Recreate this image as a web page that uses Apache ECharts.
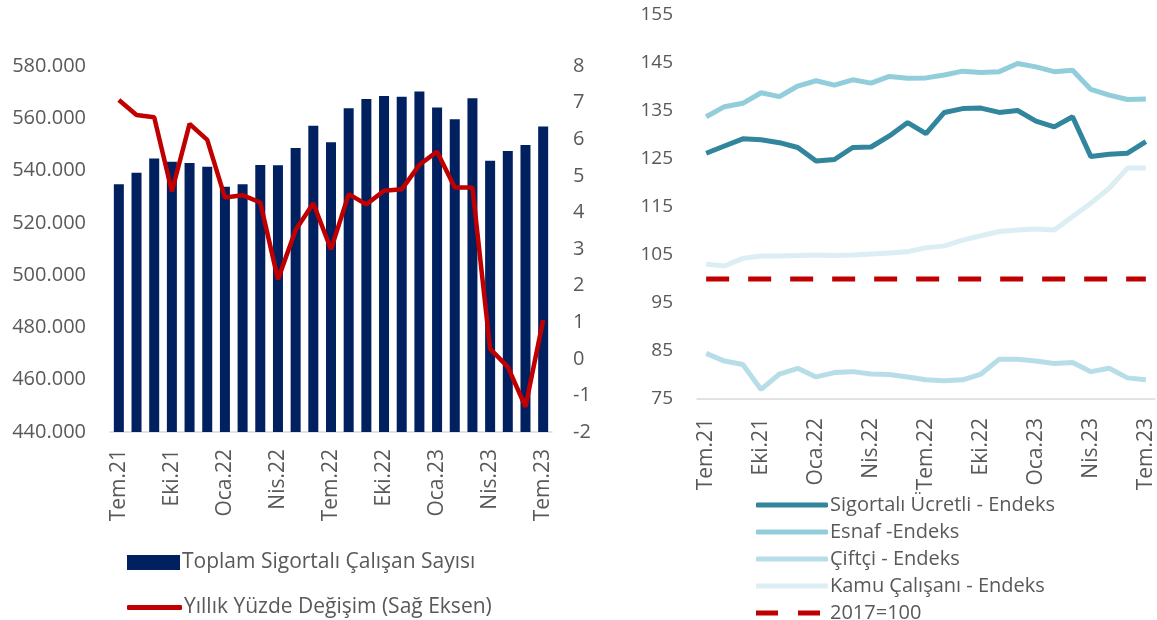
<!DOCTYPE html>
<html>
<head>
<meta charset="utf-8">
<script src="https://cdn.jsdelivr.net/npm/echarts@6/dist/echarts.min.js"></script>
<style>
  html, body { margin: 0; padding: 0; background: #fff; }
  #main { width: 1157px; height: 620px; }
</style>
</head>
<body>
<div id="main"></div>
<script>
var months = ['Tem.21', 'Ağu.21', 'Eyl.21', 'Eki.21', 'Kas.21', 'Ara.21', 'Oca.22', 'Şub.22', 'Mar.22',
  'Nis.22', 'May.22', 'Haz.22', 'Tem.22', 'Ağu.22', 'Eyl.22', 'Eki.22', 'Kas.22', 'Ara.22',
  'Oca.23', 'Şub.23', 'Mar.23', 'Nis.23', 'May.23', 'Haz.23', 'Tem.23']

// sol grafik
var toplamSigortali = [534800, 539200, 544600, 543400, 542900, 541500, 533800, 534800, 542100,
  542000, 548600, 557100, 550800, 563800, 567400, 568500, 568200, 570200,
  564100, 559600, 567700, 543800, 547500, 549800, 556900]
var yillikDegisim = [7.07, 6.66, 6.60, 4.57, 6.42, 5.98, 4.41, 4.47, 4.27,
  2.17, 3.52, 4.25, 2.99, 4.50, 4.22, 4.59, 4.63, 5.30,
  5.66, 4.68, 4.68, 0.27, -0.22, -1.31, 1.06]

// sag grafik
var sigortaliUcretli = [126.2, 127.7, 129.2, 129.0, 128.4, 127.4, 124.6, 124.9, 127.4,
  127.5, 129.8, 132.6, 130.3, 134.7, 135.5, 135.6, 134.7, 135.1,
  132.9, 131.7, 133.8, 125.5, 126.0, 126.2, 128.6]
var esnaf = [133.8, 135.9, 136.6, 138.8, 138.0, 140.2, 141.3, 140.4, 141.5,
  140.8, 142.2, 141.8, 141.9, 142.5, 143.3, 143.0, 143.2, 144.9,
  144.2, 143.2, 143.5, 139.5, 138.3, 137.4, 137.5]
var ciftci = [84.5, 82.9, 82.2, 77.0, 80.2, 81.4, 79.6, 80.5, 80.7,
  80.2, 80.1, 79.6, 79.0, 78.8, 79.0, 80.2, 83.3, 83.3,
  82.9, 82.4, 82.6, 80.7, 81.4, 79.4, 79.0]
var kamu = [103.1, 102.7, 104.3, 104.8, 104.8, 104.9, 105.0, 104.9, 105.0,
  105.2, 105.4, 105.7, 106.5, 106.9, 108.1, 109.0, 109.9, 110.2,
  110.4, 110.2, 113.0, 115.8, 118.9, 123.1, 123.1]
var baz2017 = [100, 100, 100, 100, 100, 100, 100, 100, 100,
  100, 100, 100, 100, 100, 100, 100, 100, 100,
  100, 100, 100, 100, 100, 100, 100]

var textColor = '#595959'
var fontFamily = 'Open Sans'
var dashIcon = 'path://M0,0h22v5h-22z M42,0h22v5h-22z M71.99,0h0.01v5h-0.01z'

var chart = echarts.init(document.getElementById('main'))

function xAxisOf(gridIndex, margin) {
  return {
    type: 'category',
    gridIndex: gridIndex,
    data: months,
    boundaryGap: true,
    axisLine: { onZero: false, lineStyle: { color: '#D9D9D9', width: 1.5 } },
    axisTick: { interval: 2, length: 6, lineStyle: { color: '#D9D9D9', width: 1.5 } },
    axisLabel: {
      interval: 2,
      rotate: 90,
      margin: margin,
      color: textColor,
      fontFamily: fontFamily,
      fontSize: 21
    }
  }
}

var option = {
  animation: false,
  textStyle: { fontFamily: fontFamily },
  grid: [
    { left: 110, right: 605, top: 66, bottom: 188 },
    { left: 697, right: 2, top: 15, bottom: 221 }
  ],
  xAxis: [xAxisOf(0, 17), xAxisOf(1, 19)],
  yAxis: [
    {
      type: 'value',
      gridIndex: 0,
      min: 440000,
      max: 580000,
      interval: 20000,
      splitLine: { show: false },
      axisLine: { show: false },
      axisTick: { show: false },
      axisLabel: {
        margin: 24,
        color: textColor,
        fontSize: 20,
        formatter: function (v) {
          return (v / 1000).toFixed(0) + '.000'
        }
      }
    },
    {
      type: 'value',
      gridIndex: 0,
      position: 'right',
      min: -2,
      max: 8,
      interval: 1,
      splitLine: { show: false },
      axisLine: { show: false },
      axisTick: { show: false },
      axisLabel: { margin: 21, color: textColor, fontSize: 20 }
    },
    {
      type: 'value',
      gridIndex: 1,
      min: 75,
      max: 155,
      interval: 10,
      splitLine: { show: false },
      axisLine: { show: false },
      axisTick: { show: false },
      axisLabel: { margin: 24, color: textColor, fontSize: 19 }
    }
  ],
  legend: [
    {
      data: [{ name: 'Toplam Sigortalı Çalışan Sayısı', icon: 'rect' }],
      left: 122,
      top: 547,
      itemWidth: 53,
      itemHeight: 15,
      textStyle: { color: textColor, fontSize: 21, padding: [0, 0, 0, -3] }
    },
    {
      data: [{ name: 'Yıllık Yüzde Değişim (Sağ Eksen)', icon: 'roundRect' }],
      left: 122,
      top: 592,
      itemWidth: 55,
      itemHeight: 5,
      textStyle: { color: textColor, fontSize: 21, padding: [0, 0, 0, -3] }
    },
    {
      data: [
        { name: 'Sigortalı Ücretli - Endeks', icon: 'roundRect' },
        { name: 'Esnaf -Endeks', icon: 'roundRect' },
        { name: 'Çiftçi - Endeks', icon: 'roundRect' },
        { name: 'Kamu Çalışanı - Endeks', icon: 'roundRect' },
        { name: '2017=100', icon: dashIcon }
      ],
      orient: 'vertical',
      left: 751,
      top: 490,
      height: 200,
      itemWidth: 72,
      itemHeight: 5,
      itemGap: 7,
      textStyle: { color: textColor, fontSize: 20, padding: [0, 0, 0, -3] }
    }
  ],
  series: [
    {
      name: 'Toplam Sigortalı Çalışan Sayısı',
      type: 'bar',
      xAxisIndex: 0,
      yAxisIndex: 0,
      data: toplamSigortali,
      barWidth: 10,
      itemStyle: { color: '#002060' }
    },
    {
      name: 'Yıllık Yüzde Değişim (Sağ Eksen)',
      type: 'line',
      xAxisIndex: 0,
      yAxisIndex: 1,
      data: yillikDegisim,
      symbol: 'none',
      lineStyle: { color: '#C00000', width: 4.5 },
      itemStyle: { color: '#C00000' }
    },
    {
      name: 'Sigortalı Ücretli - Endeks',
      type: 'line',
      xAxisIndex: 1,
      yAxisIndex: 2,
      data: sigortaliUcretli,
      symbol: 'none',
      lineStyle: { color: '#31859C', width: 5 },
      itemStyle: { color: '#31859C' }
    },
    {
      name: 'Esnaf -Endeks',
      type: 'line',
      xAxisIndex: 1,
      yAxisIndex: 2,
      data: esnaf,
      symbol: 'none',
      lineStyle: { color: '#92CDDC', width: 5 },
      itemStyle: { color: '#92CDDC' }
    },
    {
      name: 'Çiftçi - Endeks',
      type: 'line',
      xAxisIndex: 1,
      yAxisIndex: 2,
      data: ciftci,
      symbol: 'none',
      lineStyle: { color: '#B7DEE8', width: 5 },
      itemStyle: { color: '#B7DEE8' }
    },
    {
      name: 'Kamu Çalışanı - Endeks',
      type: 'line',
      xAxisIndex: 1,
      yAxisIndex: 2,
      data: kamu,
      symbol: 'none',
      lineStyle: { color: '#DAEEF3', width: 5 },
      itemStyle: { color: '#DAEEF3' }
    },
    {
      name: '2017=100',
      type: 'line',
      xAxisIndex: 1,
      yAxisIndex: 2,
      data: baz2017,
      symbol: 'none',
      lineStyle: { color: '#C00000', width: 5, type: [23, 19] },
      itemStyle: { color: '#C00000' }
    }
  ]
}

chart.setOption(option)
</script>
</body>
</html>
